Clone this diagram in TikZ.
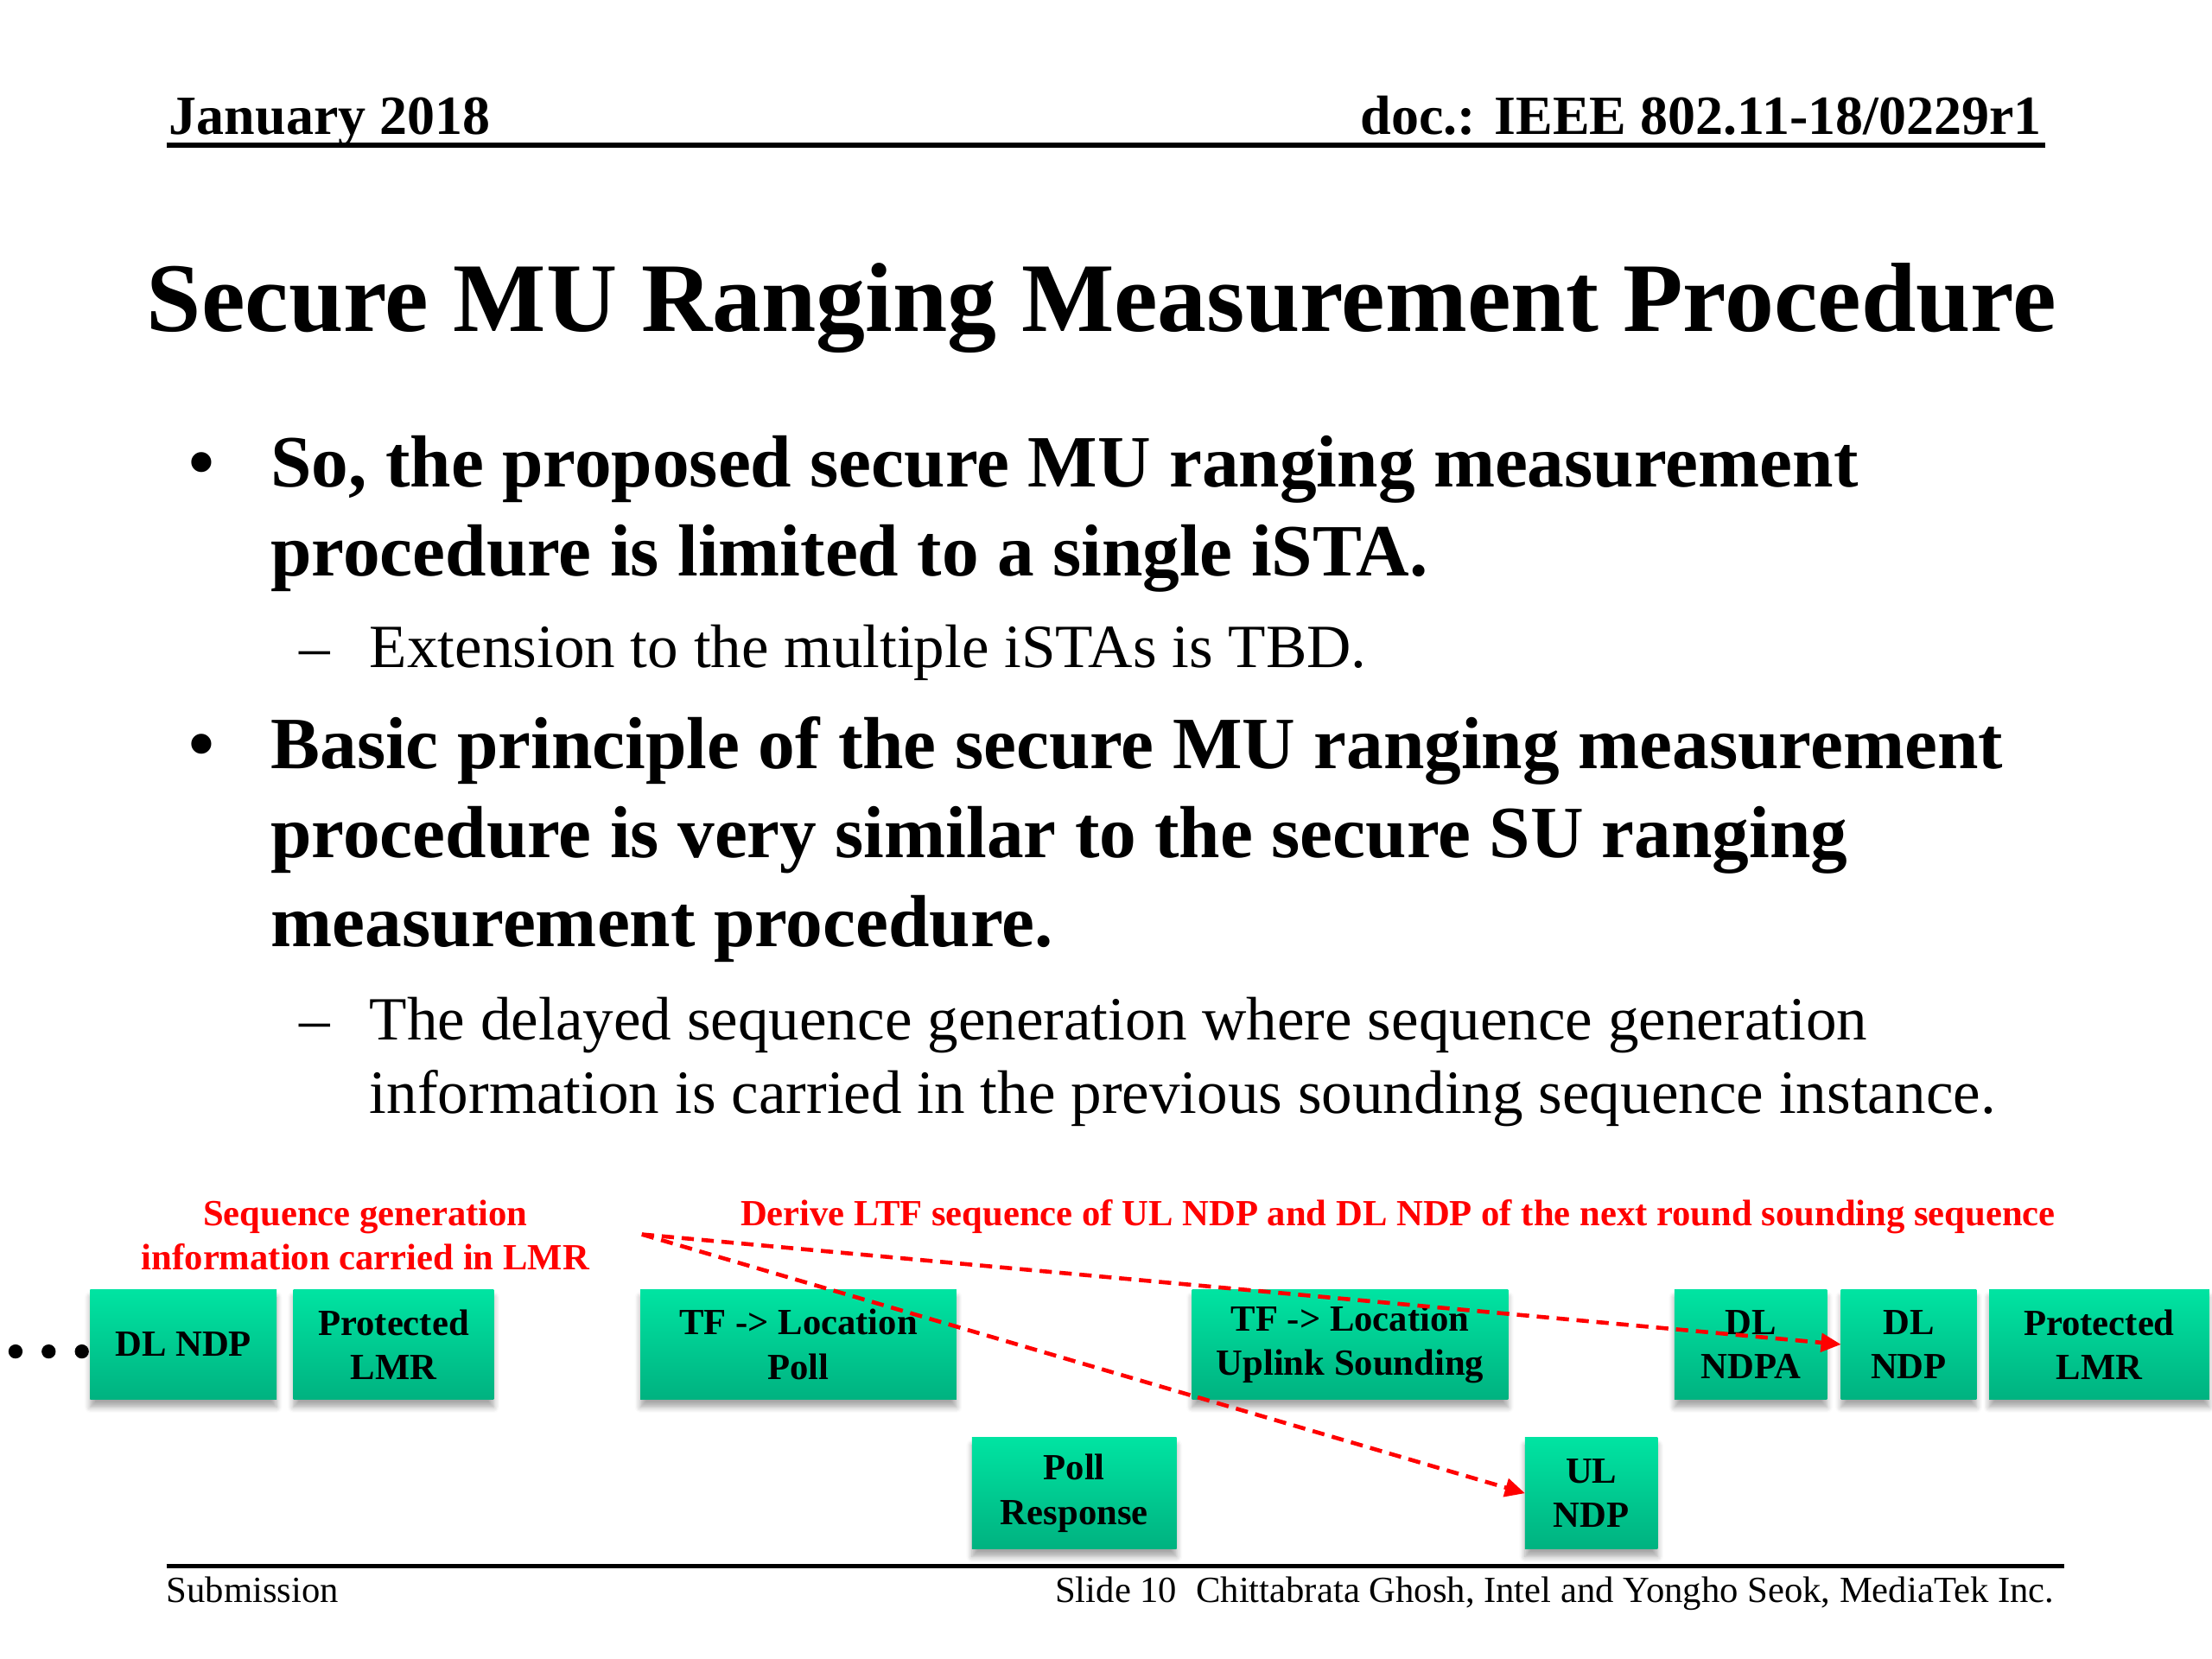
\documentclass[tikz,border=0pt]{standalone}
\usepackage{fontspec}
\setmainfont{Liberation Serif}
\usetikzlibrary{arrows.meta,shadows.blur,fit}
\definecolor{gtop}{RGB}{0,228,162}
\definecolor{gbot}{RGB}{0,178,128}
\definecolor{redtxt}{RGB}{255,0,0}
\begin{document}
\begin{tikzpicture}[x=0.459184pt,y=-0.459184pt,
  txt/.style={anchor=base west, inner sep=0, outer sep=0},
  txte/.style={anchor=base east, inner sep=0, outer sep=0},
  txtc/.style={anchor=base, inner sep=0, outer sep=0},
  hdr/.style={font=\fontsize{18}{21.6}\selectfont\bfseries},
  ttl/.style={font=\fontsize{32}{38}\selectfont\bfseries},
  lvla/.style={font=\fontsize{24}{28.8}\selectfont\bfseries},
  lvlb/.style={font=\fontsize{20}{24}\selectfont},
  foot/.style={font=\fontsize{12}{14.4}\selectfont},
  redlbl/.style={font=\fontsize{12}{14.4}\selectfont\bfseries, text=redtxt},
  gbox/.style={inner sep=0, outer sep=0, top color=gtop, bottom color=gbot,
    blur shadow={shadow xshift=0pt, shadow yshift=-2.5pt, shadow blur steps=6, shadow opacity=35}},
  boxtxt/.style={inner sep=0, outer sep=0, anchor=center,
    font=\fontsize{12}{14.4}\selectfont\bfseries, align=center},
  rule/.style={line width=1.5pt, black},
  reddash/.style={draw=redtxt, line width=1.3pt, dash pattern=on 4pt off 2.5pt,
    -{Triangle[length=6.5pt,width=6pt]}},
  dotc/.style={fill=black, draw=none}
]
\useasboundingbox (0,0) rectangle (1568,1176);

% header
\node[txt, hdr] (hdate) at (120,95) {January 2018};
\node[txte, hdr] (hdoc) at (1447,95) {doc.: IEEE 802.11-18/0229r1};
\coordinate (hr1) at (118,103);
\coordinate (hr2) at (1450,103);
\draw[rule] (hr1) -- (hr2);

% title
\node[txt, ttl] (title) at (104,235) {Secure MU Ranging Measurement Procedure};

% bullets
\node[txt, lvla] (b1m) at (134,345) {•};
\node[txt, lvla] (b1a) at (192,345) {So, the proposed secure MU ranging measurement};
\node[txt, lvla] (b1b) at (192,408) {procedure is limited to a single iSTA.};
\node[txt, lvlb] (s1m) at (212,473) {–};
\node[txt, lvlb] (s1a) at (262,473) {Extension to the multiple iSTAs is TBD.};
\node[txt, lvla] (b2m) at (134,545) {•};
\node[txt, lvla] (b2a) at (192,545) {Basic principle of the secure MU ranging measurement};
\node[txt, lvla] (b2b) at (192,608) {procedure is very similar to the secure SU ranging};
\node[txt, lvla] (b2c) at (192,671) {measurement procedure.};
\node[txt, lvlb] (s2m) at (212,737) {–};
\node[txt, lvlb] (s2a) at (262,737) {The delayed sequence generation where sequence generation};
\node[txt, lvlb] (s2b) at (262,789) {information is carried in the previous sounding sequence instance.};

% red labels
\node[txtc, redlbl] (rl1) at (259,869) {Sequence generation};
\node[txtc, redlbl] (rl2) at (259,900) {information carried in LMR};
\node[txtc, redlbl] (rl3) at (991,869) {Derive LTF sequence of UL NDP and DL NDP of the next round sounding sequence};

% dots
\fill[dotc] (11,958) circle (5);
\fill[dotc] (34.5,958) circle (5);
\fill[dotc] (58,958) circle (5);

% boxes
\node[gbox, fit={(64,914) (196,992)}] (dlndpA) {};
\node[gbox, fit={(208,914) (350,992)}] (plmrA) {};
\node[gbox, fit={(454,914) (678,992)}] (tfpoll) {};
\node[gbox, fit={(689,1019) (834,1098)}] (pollresp) {};
\node[gbox, fit={(845,914) (1069,992)}] (tfuls) {};
\node[gbox, fit={(1081,1019) (1175,1098)}] (ulndp) {};
\node[gbox, fit={(1187,914) (1295,992)}] (dlndpa) {};
\node[gbox, fit={(1305,914) (1401,992)}] (dlndpB) {};
\node[gbox, fit={(1410,914) (1566,992)}] (plmrB) {};

\node[boxtxt] (dlndpAt) at (dlndpA.center) {DL NDP};
\node[boxtxt] (plmrAt) at (plmrA.center) {Protected\\LMR};
\node[boxtxt] (tfpollt) at (tfpoll.center) {TF -> Location\\Poll};
\node[boxtxt] (pollrespt) at (pollresp.center) {Poll\\Response};
\node[boxtxt] (tfulst) at (tfuls.center) {TF -> Location\\Uplink Sounding};
\node[boxtxt] (ulndpt) at (ulndp.center) {UL\\NDP};
\node[boxtxt] (dlndpat) at (dlndpa.center) {DL\\NDPA};
\node[boxtxt] (dlndpBt) at (dlndpB.center) {DL\\NDP};
\node[boxtxt] (plmrBt) at (plmrB.center) {Protected\\LMR};

% arrows
\coordinate (src) at (455,875);
\draw[reddash] (src) -- (dlndpB.west);
\draw[reddash] (src) -- (ulndp.west);

% footer
\coordinate (fr1) at (118,1110);
\coordinate (fr2) at (1463,1110);
\draw[rule] (fr1) -- (fr2);
\node[txt, foot] (fsub) at (118,1136) {Submission};
\node[txt, foot] (fslide) at (748,1136) {Slide 10};
\node[txte, foot] (fauth) at (1456,1136) {Chittabrata Ghosh, Intel and Yongho Seok, MediaTek Inc.};
\end{tikzpicture}
\end{document}
